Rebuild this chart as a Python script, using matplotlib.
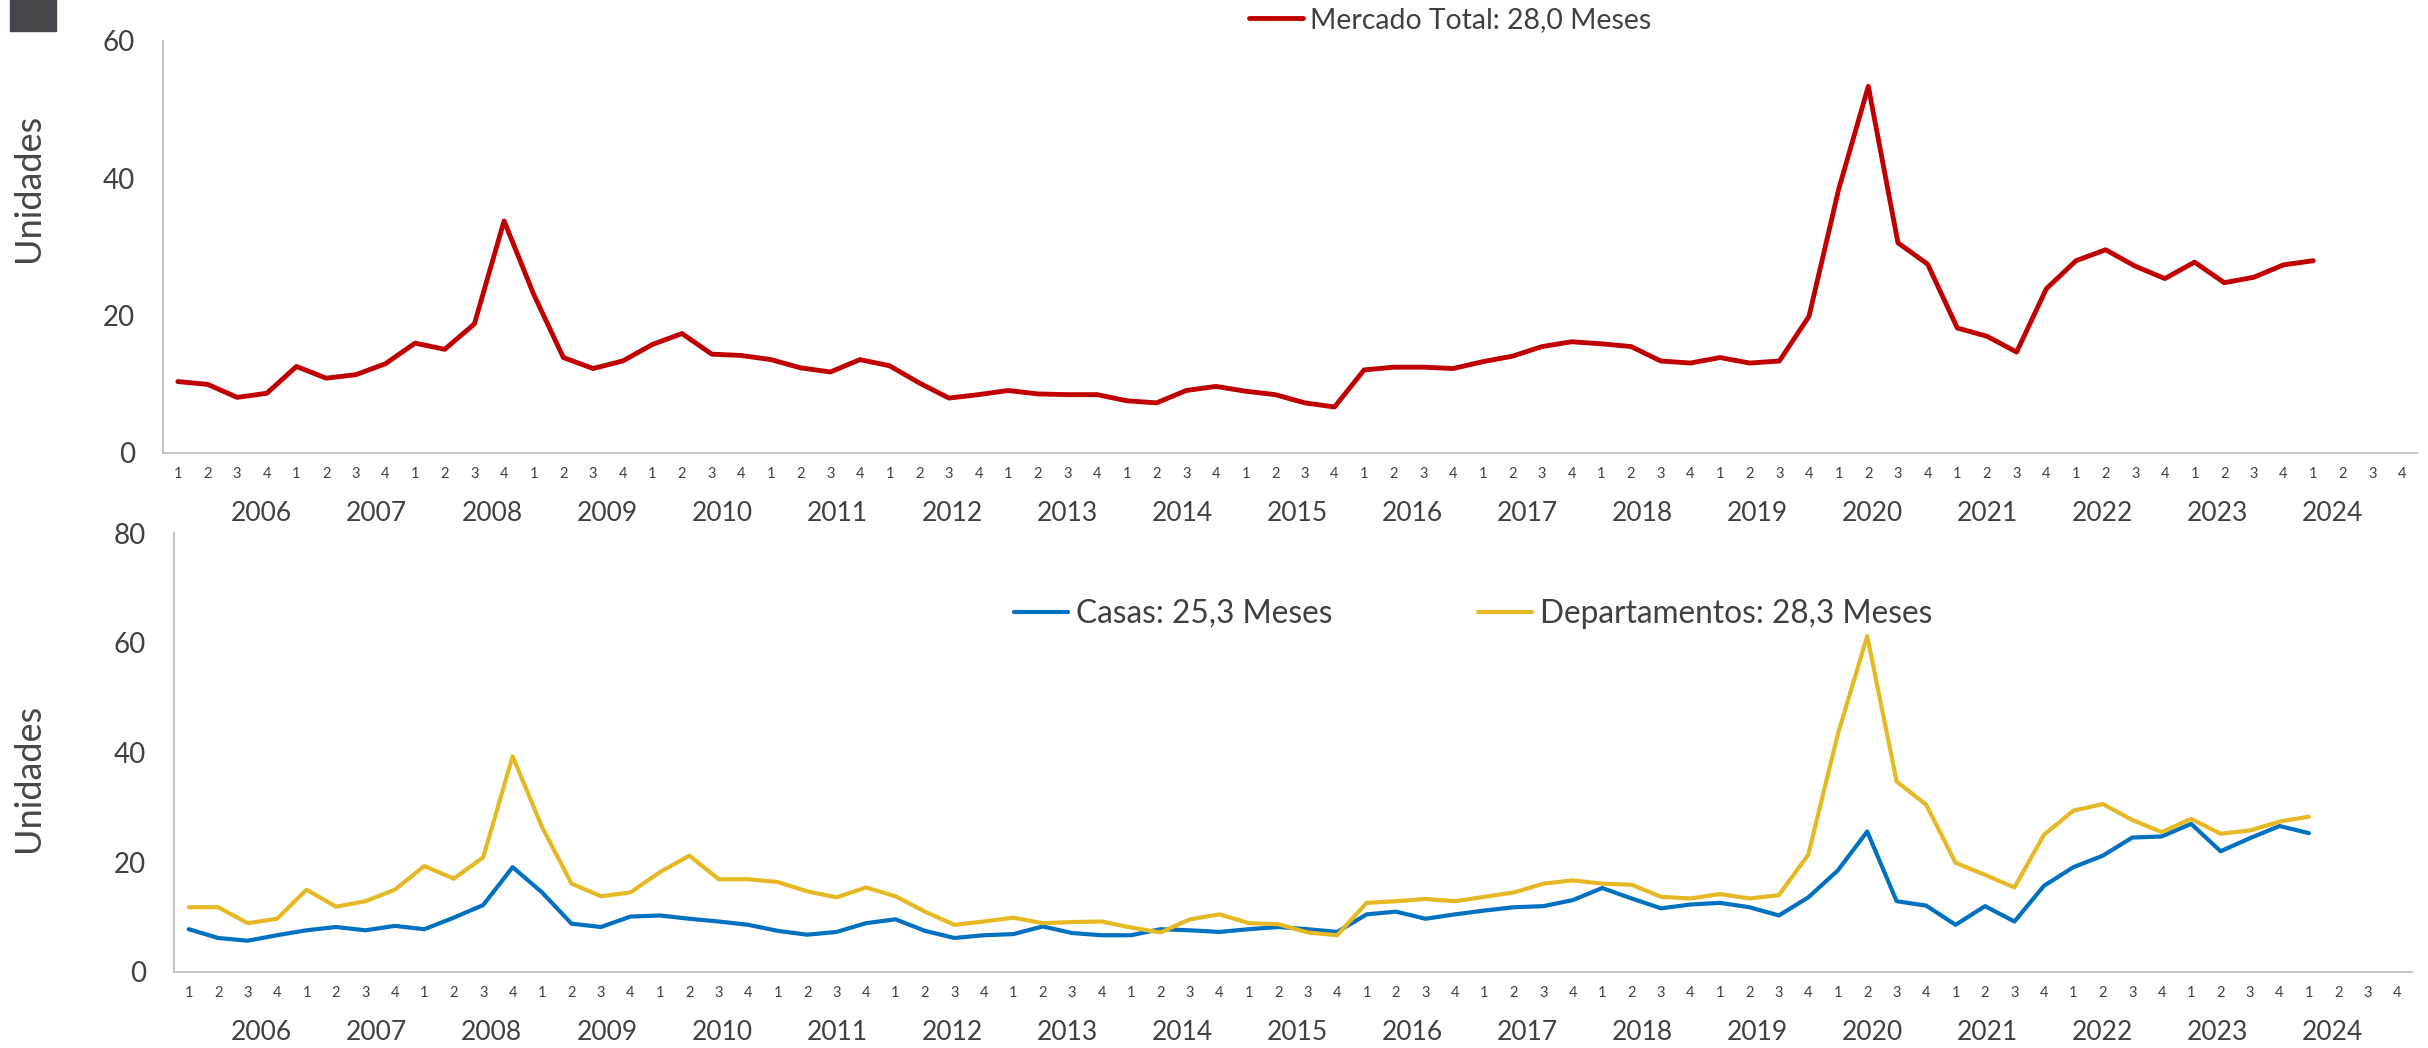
import matplotlib
matplotlib.use("Agg")
import matplotlib.pyplot as plt
from matplotlib.patches import Rectangle
import matplotlib.transforms as mtransforms

plt.rcParams['font.family'] = ['Lato', 'DejaVu Sans']

years = [str(y) for y in range(2006, 2025)]
quarters = ['1', '2', '3', '4'] * len(years)

# meses para agotar stock, trimestral 2006Q1 - 2024Q1
mercado_total = [10.4, 10.0, 8.1, 8.7, 12.6, 10.9, 11.4, 13.0, 16.0, 15.1, 18.8, 33.8,
                 23.1, 13.9, 12.3, 13.4, 15.8, 17.4, 14.4, 14.2, 13.6, 12.4, 11.8, 13.6,
                 12.7, 10.2, 8.0, 8.5, 9.1, 8.6, 8.5, 8.5, 7.6, 7.3, 9.1, 9.7,
                 9.0, 8.5, 7.3, 6.7, 12.1, 12.5, 12.5, 12.3, 13.3, 14.1, 15.5, 16.2,
                 15.9, 15.5, 13.4, 13.1, 13.9, 13.1, 13.4, 19.9, 38.4, 53.4, 30.6, 27.5,
                 18.2, 17.0, 14.7, 23.9, 28.0, 29.6, 27.2, 25.4, 27.8, 24.8, 25.6, 27.4,
                 28.0]
casas = [7.8, 6.2, 5.7, 6.7, 7.6, 8.2, 7.6, 8.4, 7.8, 9.9, 12.2, 19.1,
         14.5, 8.8, 8.2, 10.1, 10.3, 9.7, 9.2, 8.6, 7.5, 6.8, 7.3, 8.9,
         9.6, 7.5, 6.2, 6.7, 6.9, 8.3, 7.1, 6.7, 6.7, 7.8, 7.6, 7.3,
         7.8, 8.2, 7.8, 7.3, 10.5, 11.0, 9.7, 10.5, 11.2, 11.8, 12.0, 13.1,
         15.3, 13.4, 11.6, 12.3, 12.6, 11.8, 10.3, 13.6, 18.5, 25.6, 12.9, 12.1,
         8.6, 12.0, 9.2, 15.7, 19.1, 21.2, 24.5, 24.7, 27.0, 22.0, 24.4, 26.6,
         25.3]
departamentos = [11.8, 11.8, 8.9, 9.7, 15.0, 11.9, 12.9, 15.0, 19.3, 17.0, 20.9, 39.3,
                 26.4, 16.1, 13.8, 14.5, 18.2, 21.2, 16.9, 16.9, 16.4, 14.7, 13.6, 15.4,
                 13.8, 11.0, 8.6, 9.2, 9.9, 8.9, 9.1, 9.2, 8.1, 7.2, 9.6, 10.5,
                 8.9, 8.7, 7.2, 6.7, 12.6, 12.9, 13.3, 12.9, 13.7, 14.5, 16.1, 16.7,
                 16.1, 15.9, 13.7, 13.4, 14.2, 13.4, 14.0, 21.4, 43.3, 61.2, 34.7, 30.5,
                 19.9, 17.7, 15.4, 25.0, 29.4, 30.6, 27.7, 25.5, 27.9, 25.2, 25.8, 27.4,
                 28.3]

txt = '#404040'
spine = '#BFBFBF'
W, H = 2428, 1048

fig = plt.figure(figsize=(W / 100, H / 100), dpi=100)
ax1 = fig.add_axes([163 / W, 1 - 453 / H, (2417 - 163) / W, (453 - 41) / H])
ax2 = fig.add_axes([174 / W, 1 - 972 / H, (2412 - 174) / W, (972 - 533) / H])

x1 = list(range(len(mercado_total)))
x2 = list(range(len(casas)))

ax1.plot(x1, mercado_total, color='#C00000', lw=3.5, label='Mercado Total: 28,0 Meses',
         solid_capstyle='round', solid_joinstyle='round')
ax2.plot(x2, casas, color='#0070C0', lw=3.0, label='Casas: 25,3 Meses',
         solid_capstyle='round', solid_joinstyle='round')
ax2.plot(x2, departamentos, color='#E5B824', lw=3.0, label='Departamentos: 28,3 Meses',
         solid_capstyle='round', solid_joinstyle='round')

for ax, top, yt, year_pos in [(ax1, 60, [0, 20, 40, 60], (2.83, 3.879)),
                              (ax2, 80, [0, 20, 40, 60, 80], (2.48, 3.906))]:
    ax.set_xlim(-0.5, len(quarters) - 0.5)
    ax.set_ylim(0, top)
    ax.set_yticks(yt)
    ax.set_xticks(range(len(quarters)))
    ax.set_xticklabels(quarters, fontsize=10.5, color=txt)
    ax.tick_params(axis='x', length=0, pad=10)
    ax.tick_params(axis='y', length=0, pad=20, labelsize=20, labelcolor=txt)
    for s in ['top', 'right']:
        ax.spines[s].set_visible(False)
    for s in ['left', 'bottom']:
        ax.spines[s].set_color(spine)
        ax.spines[s].set_linewidth(1.3)
    trans = mtransforms.blended_transform_factory(ax.transData, ax.transAxes)
    h_px = ax.get_position().height * H
    for i, y in enumerate(years):
        ax.text(year_pos[0] + year_pos[1] * i, -61 / h_px, y, transform=trans,
                ha='center', va='center', fontsize=19, color=txt)

fig.text(29 / W, 1 - 188 / H, 'Unidades', rotation=90, ha='center', va='center',
         fontsize=26, color='#45474B')
fig.text(29 / W, 1 - 778 / H, 'Unidades', rotation=90, ha='center', va='center',
         fontsize=26, color='#45474B')

leg_kw = dict(loc='center left', bbox_transform=fig.transFigure, frameon=False,
              borderpad=0, borderaxespad=0, labelcolor=txt, handletextpad=0.25)
ax1.legend(bbox_to_anchor=(1249 / W, 1 - 20 / H), fontsize=20.4,
           handlelength=1.9, **leg_kw)
ax2.legend(bbox_to_anchor=(1014 / W, 1 - 614 / H), ncol=2, columnspacing=4.6,
           fontsize=22.8, handlelength=1.7, **leg_kw)

fig.patches.append(Rectangle((10 / W, 1 - 31 / H), 46 / W, 31 / H,
                             transform=fig.transFigure, color='#43464B'))

fig.savefig('out.png', dpi=100, facecolor='white')
